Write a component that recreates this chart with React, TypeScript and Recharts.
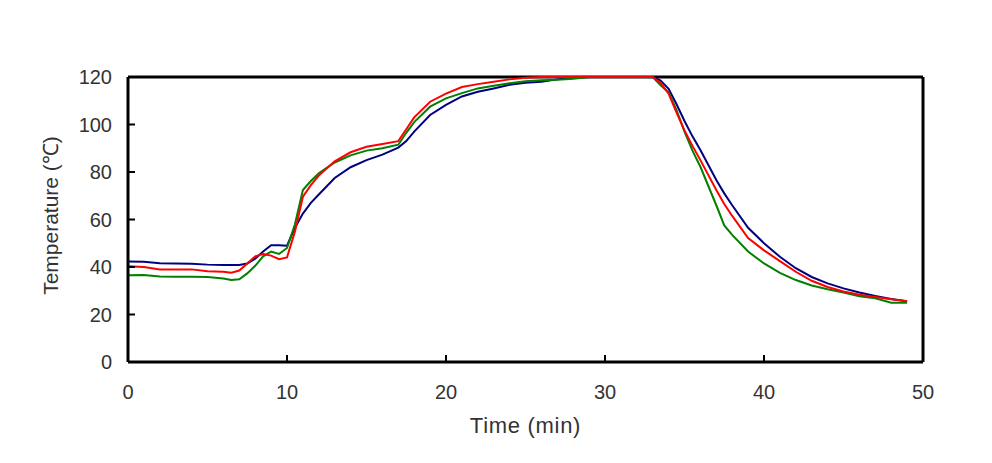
import { LineChart, Line, XAxis, YAxis, ReferenceLine } from "recharts"

// time (min) at which each temperature was sampled
const times = [
  0, 1, 2, 3, 4, 5, 6, 6.5, 7, 7.5, 8, 8.5, 9, 9.5, 10, 10.5, 11, 11.5, 12,
  13, 14, 15, 16, 17, 17.5, 18, 19, 20, 21, 22, 23, 24, 25, 26, 27, 28, 29,
  30, 31, 32, 33, 33.5, 34, 34.5, 35, 35.5, 36, 37, 37.5, 38, 39, 40, 41, 42,
  43, 44, 45, 46, 47, 48, 49,
]

const blueTemp = [
  42.3, 42.2, 41.6, 41.5, 41.4, 41.0, 40.8,
  40.8, 40.8, 41.5, 43.5, 46.5, 49.2, 49.2, 49.0, 56.5, 62.5, 67.0, 70.5,
  77.5, 82.0, 85.0, 87.3, 90.3,
  93.0,
  97.0, 104.0, 108.3, 111.8, 113.8, 115.2, 116.7, 117.6, 118.0, 119.0, 119.8, 120, 120, 120, 120, 120,
  118.5, 115.0, 108.5, 101.5, 95.0, 89.3,
  76.6, 71.0,
  66.0, 56.5, 50.0, 44.3, 39.5, 35.8, 33.1, 31.0, 29.3, 27.8, 26.5, 25.6,
]

const redTemp = [
  40.3, 40.0, 39.0, 39.0, 39.0, 38.2, 38.0,
  37.6, 38.5, 41.5, 44.5, 45.5, 44.8, 43.3, 44.0, 55.0, 69.6, 74.5, 78.5,
  84.5, 88.3, 90.6, 91.8, 93.0,
  98.0,
  103.0, 109.6, 113.0, 115.8, 117.0, 118.0, 119.0, 119.7, 120, 120, 120, 120, 120, 120, 120, 120,
  117.5, 113.0, 105.0, 97.5, 91.0, 85.0,
  72.4, 66.5,
  61.5, 52.2, 47.0, 42.5, 38.0, 34.2, 31.6, 29.7, 28.3, 27.4, 26.4, 25.6,
]

const greenTemp = [
  36.5, 36.6, 36.0, 35.9, 35.9, 35.8, 35.2,
  34.5, 34.8, 37.3, 40.5, 44.5, 46.5, 45.5, 48.0, 58.0, 72.4, 76.2, 79.5,
  84.0, 87.0, 89.0, 90.0, 91.5,
  96.5,
  101.0, 107.5, 111.0, 113.2, 115.2, 116.3, 117.4, 118.2, 118.6, 118.8, 119.3, 120, 120, 120, 120, 120,
  116.5, 113.5, 106.0, 97.0, 89.0, 82.2,
  66.0, 57.5,
  53.5, 46.5, 41.5, 37.5, 34.5, 32.2, 30.6, 29.3, 27.7, 26.8, 25.0, 25.0,
]

const xTicks = [0, 10, 20, 30, 40, 50]
const yTicks = [0, 20, 40, 60, 80, 100, 120]

const data = times.map((t, i) => ({
  time: t,
  blue: blueTemp[i],
  red: redTemp[i],
  green: greenTemp[i],
}))

const FONT = "'Liberation Sans', Arial, sans-serif"
const TEXT = "#333"
const Y_GAP = 16
const X_GAP = 23

function YTick(props: any) {
  const { x, y, payload } = props
  return (
    <g>
      <line x1={x + Y_GAP} x2={x + Y_GAP + 7} y1={y} y2={y} stroke="#000" strokeWidth={2} />
      <text x={x} y={y} dy="0.36em" textAnchor="end" fontSize={20} fontFamily={FONT} fill={TEXT}>
        {payload.value}
      </text>
    </g>
  )
}

function XTick(props: any) {
  const { x, y, payload } = props
  return (
    <g>
      <line x1={x} x2={x} y1={y - X_GAP} y2={y - X_GAP - 7} stroke="#000" strokeWidth={2} />
      <text x={x} y={y} dy="0.71em" textAnchor="middle" fontSize={20} fontFamily={FONT} fill={TEXT}>
        {payload.value}
      </text>
    </g>
  )
}

function YTitle(props: any) {
  const { viewBox } = props
  const x = viewBox.x + 22
  const y = viewBox.y + viewBox.height / 2 - 4
  return (
    <text
      x={x}
      y={y}
      dy="0.36em"
      textAnchor="middle"
      transform={`rotate(-90, ${x}, ${y})`}
      fontSize={21}
      fontFamily={FONT}
      fill={TEXT}
    >
      Temperature (℃)
    </text>
  )
}

export default function App() {
  return (
    <LineChart
      width={976}
      height={447}
      data={data}
      margin={{ top: 69, right: 61, bottom: 13, left: 20 }}
    >
      <XAxis
        dataKey="time"
        type="number"
        domain={[0, 50]}
        ticks={xTicks}
        height={80}
        axisLine={{ stroke: "#000", strokeWidth: 3 }}
        tickLine={false}
        tickSize={0}
        tickMargin={X_GAP}
        tick={<XTick />}
        label={{
          value: "Time (min)",
          position: "insideBottom",
          offset: 9,
          style: { fontSize: 22, letterSpacing: 0.7, fontFamily: FONT, fill: TEXT },
        }}
      />
      <YAxis
        type="number"
        domain={[0, 120]}
        ticks={yTicks}
        width={100}
        axisLine={{ stroke: "#000", strokeWidth: 3 }}
        tickLine={false}
        tickSize={0}
        tickMargin={Y_GAP}
        tick={<YTick />}
        label={{ content: <YTitle /> }}
      />
      <ReferenceLine y={120} stroke="#000" strokeWidth={3} />
      <ReferenceLine x={50} stroke="#000" strokeWidth={3} />
      <Line type="linear" dataKey="blue" stroke="#000080" strokeWidth={2} dot={false} isAnimationActive={false} />
      <Line type="linear" dataKey="green" stroke="#008000" strokeWidth={2} dot={false} isAnimationActive={false} />
      <Line type="linear" dataKey="red" stroke="#ff0000" strokeWidth={2} dot={false} isAnimationActive={false} />
    </LineChart>
  )
}
